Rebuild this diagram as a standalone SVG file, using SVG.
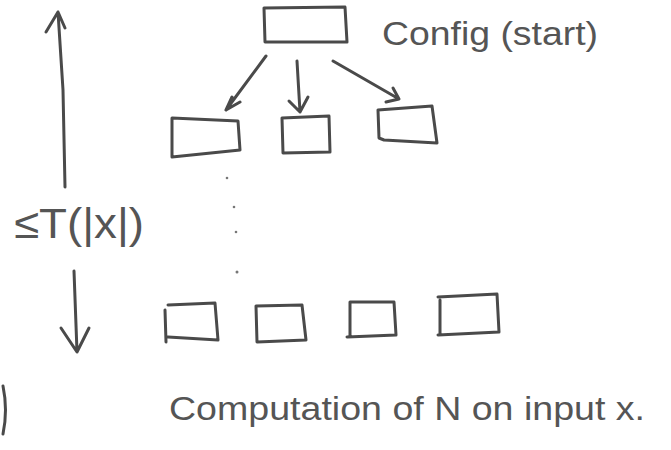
<svg xmlns="http://www.w3.org/2000/svg" width="671" height="450" viewBox="0 0 671 450">
<style>
.s{fill:none;stroke:#4a4a4a;stroke-width:3;stroke-linecap:round;stroke-linejoin:round}
.t{font-family:"Liberation Sans","DejaVu Sans",sans-serif;fill:#555}
</style>
<rect width="671" height="450" fill="#fff"/>
<g id="config">
<path class="s" d="M264 8 L345 7 L347 42 L265 42 Z"/>
<text class="t" x="382" y="45" font-size="34" textLength="216" lengthAdjust="spacingAndGlyphs">Config (start)</text>
</g>
<g id="child1"><path class="s" d="M172 118 L238 121 L240 150 L172 157 Z"/></g>
<g id="child2"><path class="s" d="M282 118 L329 116 L330 152 L283 153 Z"/></g>
<g id="child3"><path class="s" d="M378 110 L432 106 L437 143 L384 140 L379 138 Z"/></g>
<g id="final1"><path class="s" d="M168 305 L215 303 L218 340 L168 337 M165 310 L166 342"/></g>
<g id="final2"><path class="s" d="M256 306 L302 305 L306 340 L257 342 Z"/></g>
<g id="final3"><path class="s" d="M350 302 L394 302 L396 335 L347 337 M350 302 L350 336"/></g>
<g id="final4"><path class="s" d="M438 297 L497 294 L499 332 L438 335 M440 300 L440 333"/></g>
<g id="time">
<text class="t" x="14" y="238" font-size="42" textLength="130" lengthAdjust="spacingAndGlyphs">≤T(|x|)</text>
</g>
<g id="caption">
<text class="t" x="169" y="420" font-size="34" textLength="476" lengthAdjust="spacingAndGlyphs">Computation of N on input x.</text>
</g>
<g id="connectors">
<path class="s" d="M266 56 L226 110 M226 110 L240 102 M226 110 L232 97"/>
<path class="s" d="M297 61 L300 112 M289 101 L300 112 L308 97"/>
<path class="s" d="M333 61 L399 99 M393 88 L399 99 L386 102"/>
<path class="s" d="M65 187 L63 90 L58 12 M46 32 L58 12 L65 28"/>
<path class="s" d="M74 271 L77 352 M61 328 L77 352 L89 328"/>
<path class="s" d="M3 386 Q8 410 3 434"/>
</g>
<g id="dots" fill="#777">
<circle cx="227" cy="178" r="1.3"/>
<circle cx="234" cy="207" r="1.3"/>
<circle cx="236" cy="232" r="1.3"/>
<circle cx="237" cy="272" r="1.5"/>
</g>
</svg>
